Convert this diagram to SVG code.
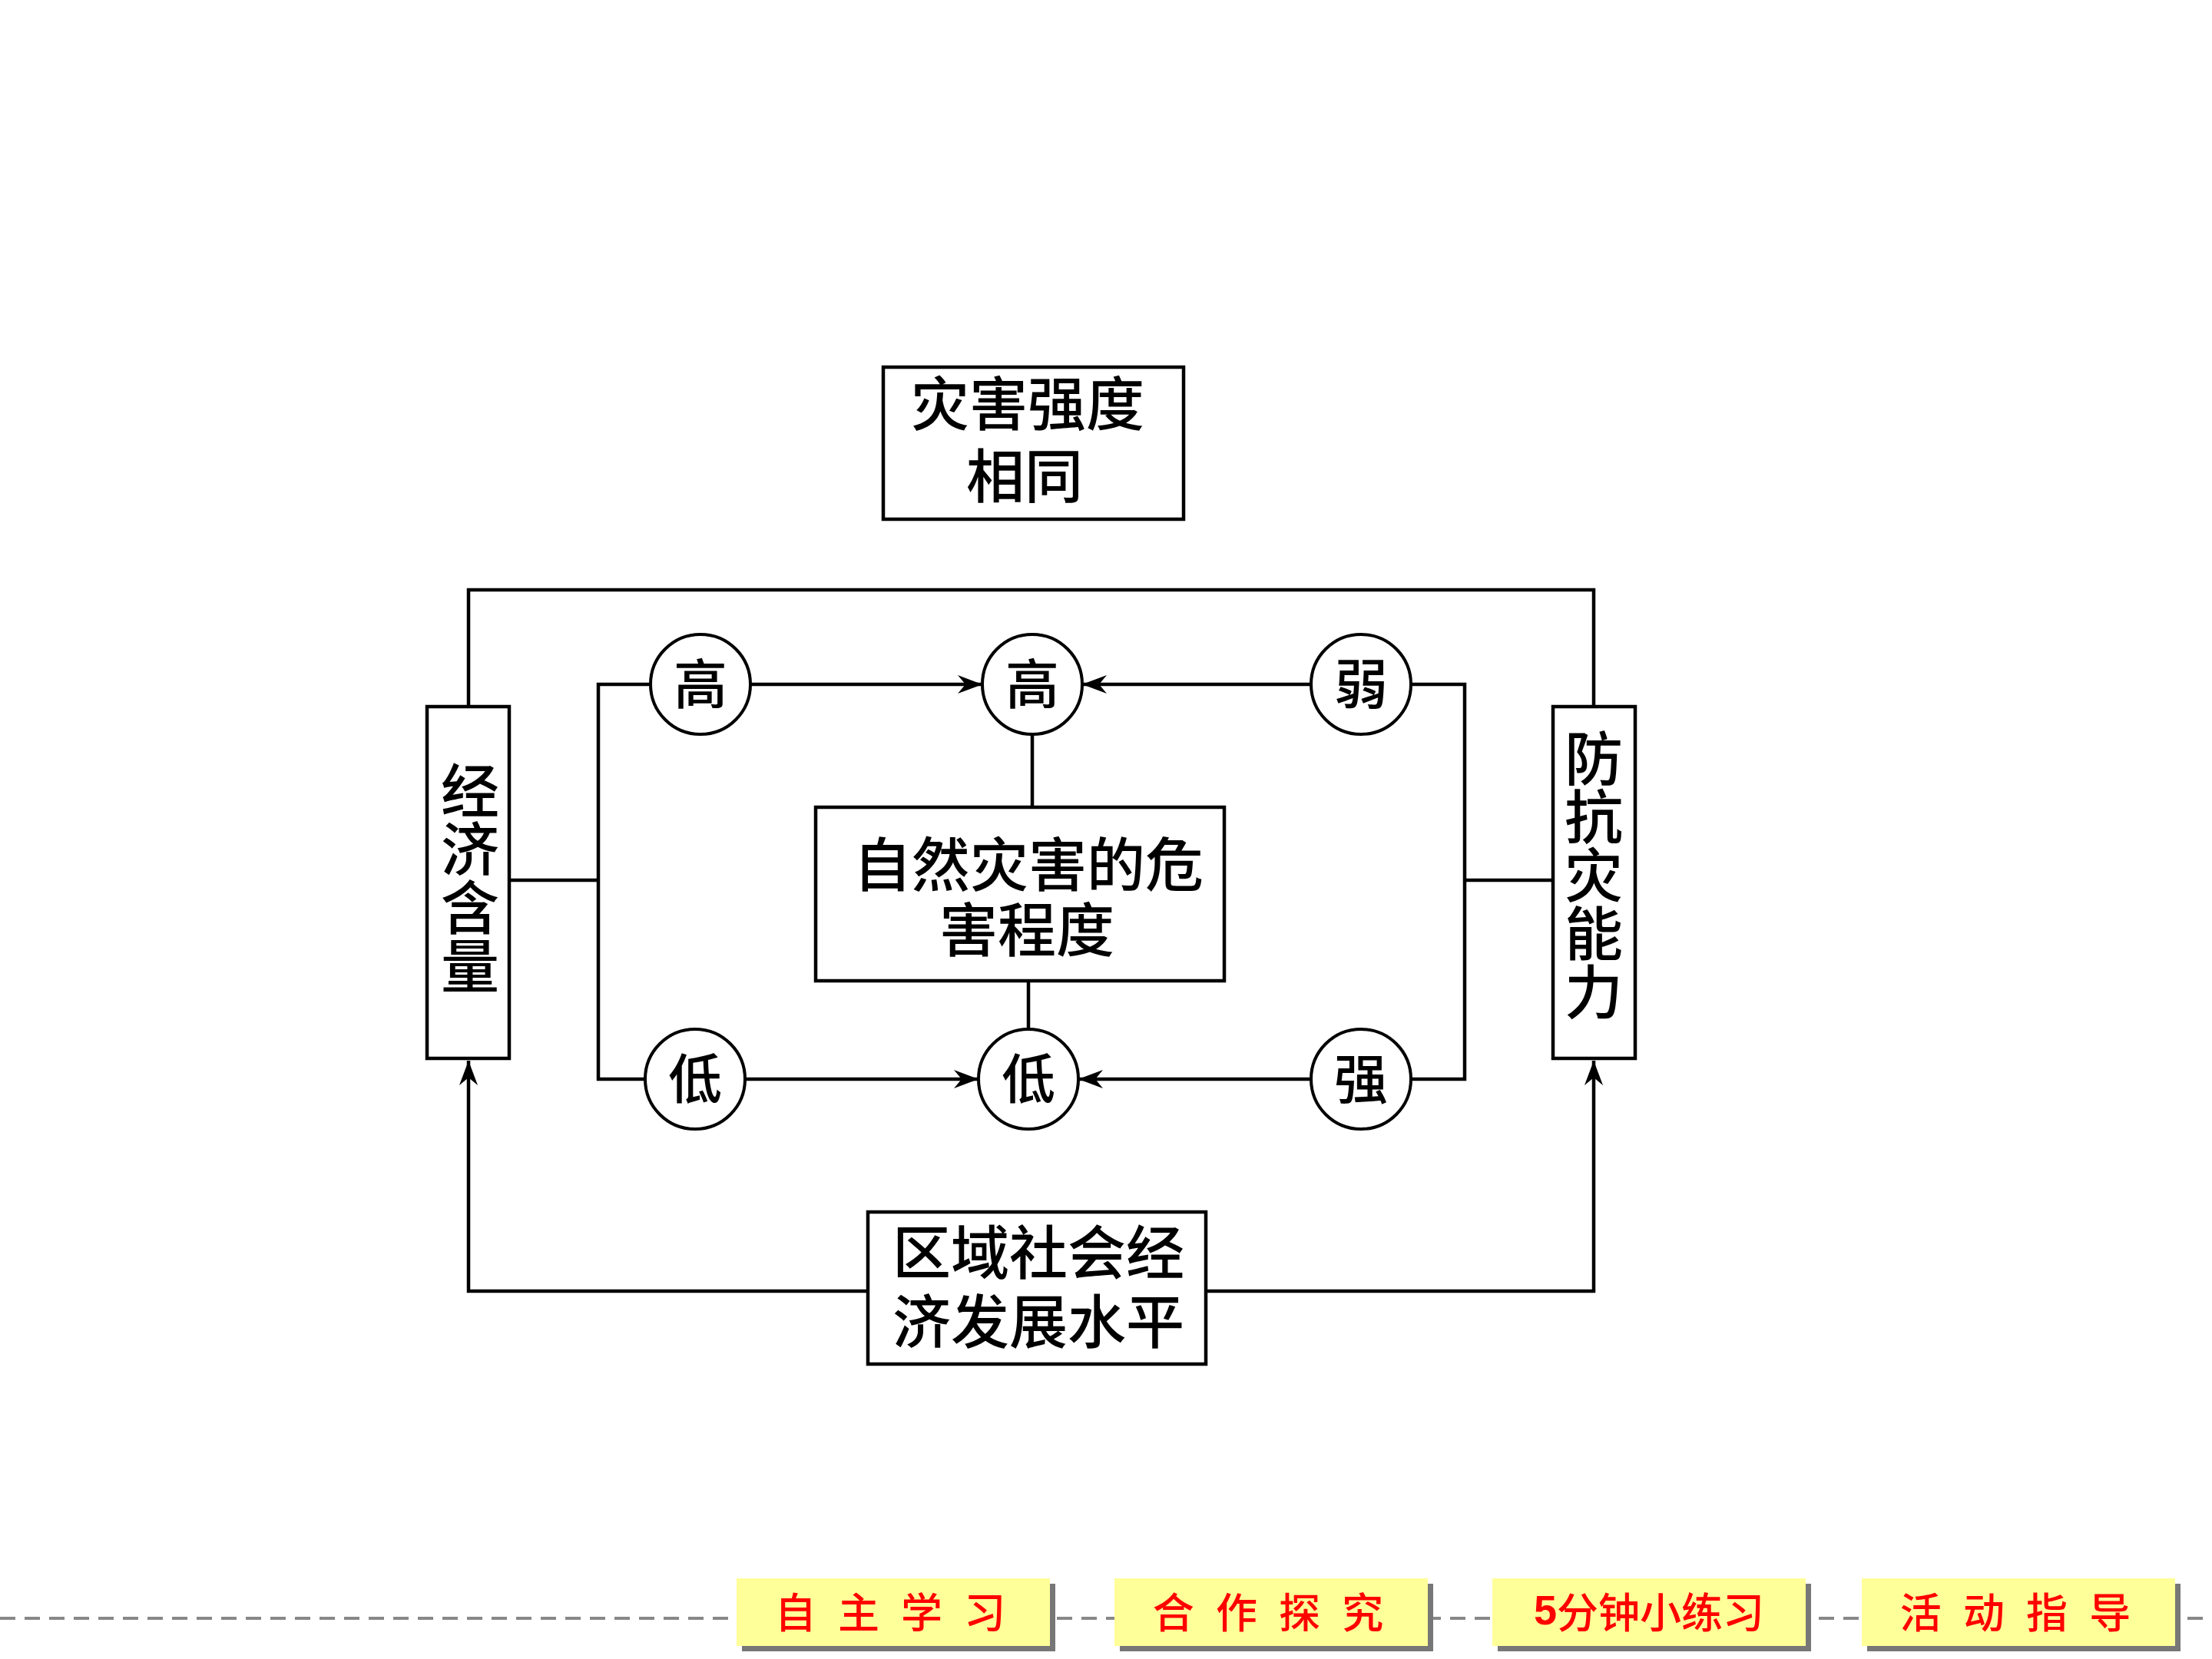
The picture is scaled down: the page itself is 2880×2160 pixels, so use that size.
<svg xmlns="http://www.w3.org/2000/svg" width="2880" height="2160" viewBox="0 0 2880 2160">
<defs>
<style>
.box{fill:#fff;stroke:#000;stroke-width:4.5}
.circ{fill:#fff;stroke:#000;stroke-width:4}
.ln{fill:none;stroke:#000;stroke-width:4.5}
.t{font-family:"Liberation Serif","Noto Sans CJK SC",serif;font-size:76px;font-weight:500;fill:#000;text-anchor:middle;dominant-baseline:central}
.tv{font-family:"Noto Sans CJK SC","Liberation Serif",sans-serif;font-size:76px;font-weight:500;fill:#000;text-anchor:middle;dominant-baseline:central;writing-mode:vertical-rl}
.tc{font-family:"Noto Sans CJK SC","Liberation Serif",sans-serif;font-size:70px;font-weight:500;fill:#000;text-anchor:middle;dominant-baseline:central}
.tab{fill:#FFFF99}
.sh{fill:#777}
.tt{font-family:"Noto Sans CJK SC","Liberation Sans",sans-serif;font-size:54px;font-weight:500;fill:#FF0000;text-anchor:middle;dominant-baseline:central}
</style>
<marker id="arr" markerUnits="userSpaceOnUse" markerWidth="40" markerHeight="30" viewBox="-34 -15 36 30" refX="0" refY="0" orient="auto">
<path d="M0,0 L-32,-12 L-22,0 L-32,12 Z" fill="#000"/>
</marker>
</defs>
<rect width="2880" height="2160" fill="#fff"/>

<g id="connectors">
<path class="ln" d="M610,920 V768 H2075 V920"/>
<path class="ln" d="M663,1146 H779"/>
<path class="ln" d="M847,891 H779 V1405 H840"/>
<path class="ln" d="M2022,1146 H1907"/>
<path class="ln" d="M1837,891 H1907 V1405 H1837"/>
<path class="ln" d="M977,891 H1279" marker-end="url(#arr)"/>
<path class="ln" d="M1707,891 H1409" marker-end="url(#arr)"/>
<path class="ln" d="M970,1405 H1274" marker-end="url(#arr)"/>
<path class="ln" d="M1707,1405 H1404" marker-end="url(#arr)"/>
<path class="ln" d="M1344,955 V1051"/>
<path class="ln" d="M1339,1277 V1340"/>
<path class="ln" d="M1130,1681 H610 V1381" marker-end="url(#arr)"/>
<path class="ln" d="M1570,1681 H2075 V1381" marker-end="url(#arr)"/>
</g>

<g id="n_top">
<rect class="box" x="1150" y="478" width="391" height="198"/>
<text class="t"><tspan x="1338" y="528">灾害强度</tspan><tspan x="1334" y="622">相同</tspan></text>
</g>

<g id="n_econ">
<rect class="box" x="556" y="920" width="107" height="458"/>
<text class="tv" x="612" y="1143">经济含量</text>
</g>

<g id="n_resist">
<rect class="box" x="2022" y="920" width="107" height="458"/>
<text class="tv" x="2075" y="1139">防抗灾能力</text>
</g>

<g id="n_center">
<rect class="box" x="1062" y="1051" width="532" height="226"/>
<text class="t"><tspan x="1339" y="1128">自然灾害的危</tspan><tspan x="1337" y="1213">害程度</tspan></text>
</g>

<g id="n_bottom">
<rect class="box" x="1130" y="1578" width="440" height="198"/>
<text class="t"><tspan x="1352" y="1633">区域社会经</tspan><tspan x="1352" y="1723">济发展水平</tspan></text>
</g>

<g id="c_high_l"><circle class="circ" cx="912" cy="891" r="65"/><text class="tc" x="912" y="886">高</text></g>
<g id="c_high_c"><circle class="circ" cx="1344" cy="891" r="65"/><text class="tc" x="1344" y="886">高</text></g>
<g id="c_weak"><circle class="circ" cx="1772" cy="891" r="65"/><text class="tc" x="1772" y="886">弱</text></g>
<g id="c_low_l"><circle class="circ" cx="905" cy="1405" r="65"/><text class="tc" x="905" y="1400">低</text></g>
<g id="c_low_c"><circle class="circ" cx="1339" cy="1405" r="65"/><text class="tc" x="1339" y="1400">低</text></g>
<g id="c_strong"><circle class="circ" cx="1772" cy="1405" r="65"/><text class="tc" x="1772" y="1400">强</text></g>

<g id="nav">
<line x1="0" y1="2107" x2="2880" y2="2107" stroke="#888" stroke-width="4" stroke-dasharray="20 12"/>
<rect class="sh" x="966" y="2062" width="408" height="88"/>
<rect class="tab" x="959" y="2055" width="408" height="88"/>
<text class="tt" x="1163" y="2096" letter-spacing="8">自 主 学 习</text>
<rect class="sh" x="1458" y="2062" width="408" height="88"/>
<rect class="tab" x="1451" y="2055" width="408" height="88"/>
<text class="tt" x="1655" y="2096" letter-spacing="8">合 作 探 究</text>
<rect class="sh" x="1950" y="2062" width="408" height="88"/>
<rect class="tab" x="1943" y="2055" width="408" height="88"/>
<text class="tt" x="2147" y="2096"><tspan font-weight="bold" font-family="Liberation Sans,sans-serif">5</tspan>分钟小练习</text>
<rect class="sh" x="2431" y="2062" width="408" height="88"/>
<rect class="tab" x="2424" y="2055" width="408" height="88"/>
<text class="tt" x="2628" y="2096" letter-spacing="8">活 动 指 导</text>
</g>
</svg>
